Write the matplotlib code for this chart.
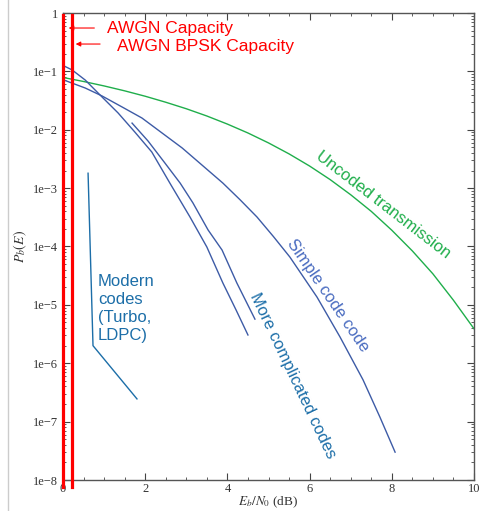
import matplotlib.pyplot as plt
from matplotlib.lines import Line2D
from matplotlib.ticker import LogLocator, FixedLocator, NullFormatter

# Leitura aproximada das curvas (Eb/N0 em dB, Pb)
uncoded_x = [0, 0.5, 1, 1.5, 2, 2.5, 3, 3.5, 4, 4.5, 5, 5.5, 6, 6.5, 7, 7.5, 8, 8.5, 9, 9.5, 10]
uncoded_y = [7.86e-2, 6.71e-2, 5.63e-2, 4.64e-2, 3.75e-2, 2.96e-2, 2.29e-2, 1.72e-2, 1.25e-2,
             8.8e-3, 5.95e-3, 3.86e-3, 2.39e-3, 1.40e-3, 7.7e-4, 4.0e-4, 1.9e-4, 8.4e-5,
             3.4e-5, 1.2e-5, 3.9e-6]

simple_x = [0.02, 0.54, 0.95, 1.44, 1.92, 2.41, 2.90, 3.38, 3.89, 4.31, 4.72, 5.12, 5.52,
            6.18, 6.74, 7.30, 7.71, 8.08]
simple_y = [7.11e-2, 5.19e-2, 3.79e-2, 2.45e-2, 1.59e-2, 8.8e-3, 4.87e-3, 2.49e-3, 1.22e-3,
            6.3e-4, 3.2e-4, 1.48e-4, 6.6e-5, 1.36e-5, 2.82e-6, 5.2e-7, 1.2e-7, 3.0e-8]

complex1_x = [-0.12, 0.22, 0.54, 0.95, 1.34, 1.75, 2.16, 2.60, 3.09, 3.50, 3.89, 4.21, 4.50]
complex1_y = [1.39e-1, 1.06e-1, 7.11e-2, 3.64e-2, 1.94e-2, 9.1e-3, 4.16e-3, 1.22e-3, 3.2e-4,
              9.8e-5, 2.37e-5, 8.2e-6, 3.05e-6]

complex2_x = [1.68, 2.07, 2.48, 2.85, 3.16, 3.53, 3.87, 4.23, 4.67]
complex2_y = [1.30e-2, 6.4e-3, 2.69e-3, 1.22e-3, 5.6e-4, 1.92e-4, 8.7e-5, 2.37e-5, 5.7e-6]

modern_x = [0.61, 0.73, 1.80]
modern_y = [1.8e-3, 2.0e-6, 2.45e-7]

cap_awgn = -0.01
cap_bpsk = 0.21

yticks = [1, 1e-1, 1e-2, 1e-3, 1e-4, 1e-5, 1e-6, 1e-7, 1e-8]
ylabels = ['1', '1e\u22121', '1e\u22122', '1e\u22123', '1e\u22124', '1e\u22125', '1e\u22126', '1e\u22127', '1e\u22128']
xticks = [0, 2, 4, 6, 8, 10]

plt.rcParams['mathtext.fontset'] = 'stix'
sans = 'Liberation Sans'
serif = 'Liberation Serif'

fig = plt.figure(figsize=(4.83, 5.11), dpi=100)
ax = fig.add_axes([63 / 483, 31 / 511, 411 / 483, 467 / 511])

blue = '#3d5ba6'
teal = '#1c6ea8'
green = '#1fae4b'

ax.plot(uncoded_x, uncoded_y, color=green, lw=1)
ax.plot(simple_x, simple_y, color=blue, lw=1)
ax.plot(complex1_x, complex1_y, color=blue, lw=1)
ax.plot(complex2_x, complex2_y, color=blue, lw=1)
ax.plot(modern_x, modern_y, color=teal, lw=1)

# Linhas de capacidade
for xc in [cap_awgn, cap_bpsk]:
    ax.plot([xc, xc], [0.92, 7.6e-9], color='red', lw=2.3, clip_on=False, zorder=5)

ax.annotate('', xy=(0.07, 0.553), xytext=(0.83, 0.553),
            arrowprops=dict(arrowstyle='-|>', color='red', lw=0.8, mutation_scale=7))
ax.annotate('', xy=(0.24, 0.294), xytext=(0.97, 0.294),
            arrowprops=dict(arrowstyle='-|>', color='red', lw=0.8, mutation_scale=7))
ax.text(1.07, 0.553, 'AWGN Capacity', color='red', fontsize=12.5, family=sans, va='center')
ax.text(1.31, 0.262, 'AWGN BPSK Capacity', color='red', fontsize=12.5, family=sans, va='center')

ax.text(0.85, 8.5e-6, 'Modern\ncodes\n(Turbo,\nLDPC)', color=teal, fontsize=12,
        family=sans, va='center', ha='left', linespacing=1.25)
ax.text(5.60, 6.0e-7, 'More complicated codes', color=teal, fontsize=12, family=sans,
        rotation=-64.6, rotation_mode='anchor', ha='center', va='center')
ax.text(6.45, 1.42e-5, 'Simple code code', color='#4a6cc0', fontsize=12, family=sans,
        rotation=-55.5, rotation_mode='anchor', ha='center', va='center')
ax.text(7.79, 5.1e-4, 'Uncoded transmission', color=green, fontsize=12, family=sans,
        rotation=-37.6, rotation_mode='anchor', ha='center', va='center')

ax.set_yscale('log')
ax.set_xlim(0, 10)
ax.set_ylim(1e-8, 1)
ax.yaxis.set_major_locator(FixedLocator(yticks))
ax.set_yticklabels(ylabels, family=serif, fontsize=9)
ax.yaxis.set_minor_locator(LogLocator(base=10, subs=range(2, 10), numticks=20))
ax.yaxis.set_minor_formatter(NullFormatter())
ax.set_xticks(xticks)
ax.set_xticklabels([str(t) for t in xticks], family=serif, fontsize=9)
ax.set_xticks([x / 2 for x in range(21)], minor=True)

ax.tick_params(which='both', direction='in', top=True, right=True, colors='#444444',
               labelcolor='#333333')
ax.tick_params(which='major', length=5)
ax.tick_params(which='minor', length=2.5)
ax.tick_params(axis='x', pad=2.5)
for s in ax.spines.values():
    s.set_color('#555555')
    s.set_linewidth(1)

ax.set_xlabel('$E_b/N_0$ (dB)', fontsize=9.5, family=serif, color='#333333', labelpad=-0.5)
ax.set_ylabel('$P_b(E)$', fontsize=10, color='#333333', labelpad=3)

fig.add_artist(Line2D([8 / 483, 8 / 483], [0, 1], color='#cccccc', lw=1))

fig.savefig('out.png', dpi=100)
